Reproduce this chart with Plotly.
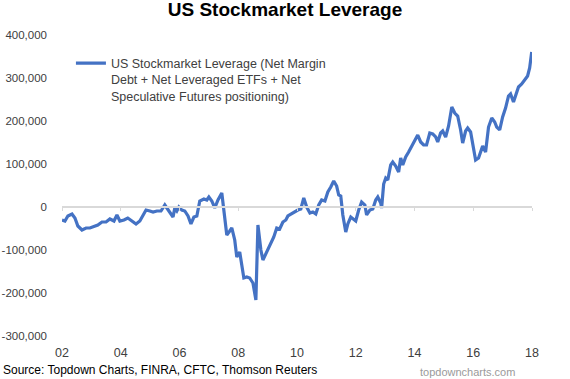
import plotly.graph_objects as go

# Decimal years and values
years = [2002.00, 2002.10, 2002.20, 2002.34, 2002.44, 2002.54, 2002.68, 2002.82, 2002.95, 2003.09,
         2003.22, 2003.36, 2003.50, 2003.63, 2003.77, 2003.87, 2003.97, 2004.11, 2004.24, 2004.38,
         2004.52, 2004.65, 2004.79, 2004.86, 2004.99, 2005.10, 2005.23, 2005.37, 2005.50, 2005.61,
         2005.71, 2005.78, 2005.84, 2005.91, 2005.98, 2006.08, 2006.18, 2006.29, 2006.39, 2006.49,
         2006.59, 2006.69, 2006.83, 2006.93, 2007.00, 2007.10, 2007.20, 2007.31, 2007.44, 2007.54,
         2007.61, 2007.71, 2007.78, 2007.88, 2007.95, 2008.05, 2008.12, 2008.19, 2008.29, 2008.39,
         2008.50, 2008.60, 2008.67, 2008.77, 2008.84, 2008.97, 2009.07, 2009.21, 2009.31, 2009.41,
         2009.52, 2009.62, 2009.69, 2009.79, 2009.93, 2010.03, 2010.13, 2010.23, 2010.33, 2010.44,
         2010.54, 2010.64, 2010.74, 2010.84, 2010.95, 2011.05, 2011.15, 2011.25, 2011.35, 2011.42,
         2011.49, 2011.56, 2011.66, 2011.73, 2011.83, 2011.93, 2012.00, 2012.10, 2012.20, 2012.31,
         2012.37, 2012.48, 2012.58, 2012.68, 2012.75, 2012.85, 2012.88, 2012.95, 2013.02, 2013.09,
         2013.19, 2013.26, 2013.36, 2013.46, 2013.53, 2013.60, 2013.70, 2013.80, 2013.90, 2014.01,
         2014.11, 2014.21, 2014.31, 2014.41, 2014.52, 2014.62, 2014.72, 2014.79, 2014.89, 2014.96,
         2015.06, 2015.16, 2015.27, 2015.37, 2015.47, 2015.57, 2015.64, 2015.74, 2015.81, 2015.91,
         2016.01, 2016.08, 2016.18, 2016.25, 2016.32, 2016.42, 2016.52, 2016.63, 2016.73, 2016.80,
         2016.90, 2017.00, 2017.10, 2017.20, 2017.27, 2017.37, 2017.48, 2017.54, 2017.65, 2017.75,
         2017.85, 2017.92, 2017.95, 2017.99]

leverage = [-30200, -32600, -20900, -16300, -25600, -44200, -53500, -48800, -48800, -44200,
            -41900, -34900, -34900, -27900, -32600, -18600, -32600, -30200, -25600, -32600,
            -39500, -32600, -16300, -7000, -9300, -11600, -9300, -9300, 4700, -7000,
            -16300, -23300, -2300, -9300, 0, -7000, -9300, -20900, -39500, -23300,
            -20900, 14000, 18600, 16300, 23300, 14000, -2300, 16300, 32600, -18600,
            -65100, -55800, -48800, -76700, -116300, -104700, -141900, -165100, -162800, -165100,
            -176700, -216300, -41900, -100000, -123300, -104700, -88400, -69800, -48800, -51200,
            -34900, -30200, -20900, -16300, -11600, -7000, -4700, 20900, 0, -14000,
            -11600, -16300, 4700, 16300, 14000, 34900, 46500, 60500, 48800, 27900,
            25600, -18600, -58100, -39500, -23300, -30200, -32600, -7000, 11600, 4700,
            -18600, -7000, -4700, 16300, 23300, 9300, -2300, 53500, 67400, 62800,
            97700, 104700, 95300, 81400, 114000, 97700, 116300, 127900, 141900, 155800,
            167400, 151200, 144200, 144200, 172100, 169800, 162800, 151200, 172100, 176700,
            162800, 188400, 232600, 218600, 211600, 179100, 148800, 176700, 183700, 174400,
            137200, 109300, 114000, 127900, 141900, 127900, 186000, 207000, 197700, 186000,
            179100, 209300, 230200, 258100, 262800, 244200, 267400, 279100, 286000, 295300,
            304700, 323300, 341900, 360500]

x_tickvals = [2002, 2004, 2006, 2008, 2010, 2012, 2014, 2016, 2018]
x_ticktext = ["02", "04", "06", "08", "10", "12", "14", "16", "18"]
y_tickvals = [-300000, -200000, -100000, 0, 100000, 200000, 300000, 400000]
y_ticktext = ["-300,000", "-200,000", "-100,000", "0", "100,000", "200,000", "300,000", "400,000"]

series_name = ("US Stockmarket Leverage (Net Margin<br>Debt + Net Leveraged ETFs + Net<br>"
               "Speculative Futures positioning)")

FONT = "Liberation Sans, Arial, sans-serif"
BLUE = "#4472C4"

fig = go.Figure()
fig.add_trace(go.Scatter(
    x=years, y=leverage, mode="lines", name=series_name,
    line=dict(color=BLUE, width=3.2), showlegend=True,
))
# invisible helper on the zero-line axis so it is drawn
fig.add_trace(go.Scatter(
    x=[x_tickvals[0], x_tickvals[-1]], y=[0, 0], xaxis="x2", mode="lines",
    line=dict(width=0, color="rgba(0,0,0,0)"), showlegend=False, hoverinfo="skip",
))

fig.update_layout(
    width=570, height=379,
    margin=dict(l=62, r=38, t=35, b=43),
    paper_bgcolor="white", plot_bgcolor="white",
    font=dict(family=FONT, size=12, color="#404040"),
    title=dict(text="<b>US Stockmarket Leverage</b>", x=0.5, xanchor="center",
               y=0.975, yanchor="middle",
               font=dict(family=FONT, size=19, color="#000000")),
    xaxis=dict(range=[2002, 2018], tickvals=x_tickvals, ticktext=x_ticktext,
               showgrid=False, zeroline=False, showline=False, ticks="",
               automargin=False,
               tickfont=dict(size=12.5, color="#404040"), ticklabelstandoff=7),
    xaxis2=dict(range=[2002, 2018], tickvals=x_tickvals, overlaying="x",
                anchor="free", position=3 / 7, side="bottom", automargin=False,
                showgrid=False, zeroline=False, showline=True,
                linecolor="#d9d9d9", linewidth=1.5, ticks="outside", ticklen=3,
                tickcolor="#d9d9d9", showticklabels=False),
    yaxis=dict(range=[-300000, 400000], tickvals=y_tickvals, ticktext=y_ticktext,
               showgrid=False, zeroline=False, showline=False, ticks="",
               automargin=False,
               tickfont=dict(size=11.5, color="#404040"), ticklabelstandoff=14),
    legend=dict(x=0.019, y=0.955, xanchor="left", yanchor="top", valign="top",
                bgcolor="rgba(0,0,0,0)", font=dict(size=12.5, color="#404040"),
                tracegroupgap=0, itemwidth=30),
    annotations=[
        dict(text="Source: Topdown Charts, FINRA, CFTC, Thomson Reuters",
             xref="paper", yref="paper", x=-61 / 470, y=-34 / 301, xanchor="left",
             yanchor="middle", showarrow=False,
             font=dict(family=FONT, size=12, color="#000000")),
        dict(text="topdowncharts.com", xref="paper", yref="paper",
             x=(517 - 62) / 470, y=-36 / 301, xanchor="right", yanchor="middle",
             showarrow=False, font=dict(family=FONT, size=11, color="#9a9a9a")),
    ],
)

fig.write_html("out.html", post_script="document.body.style.margin='0';",
               config={"displayModeBar": False})
